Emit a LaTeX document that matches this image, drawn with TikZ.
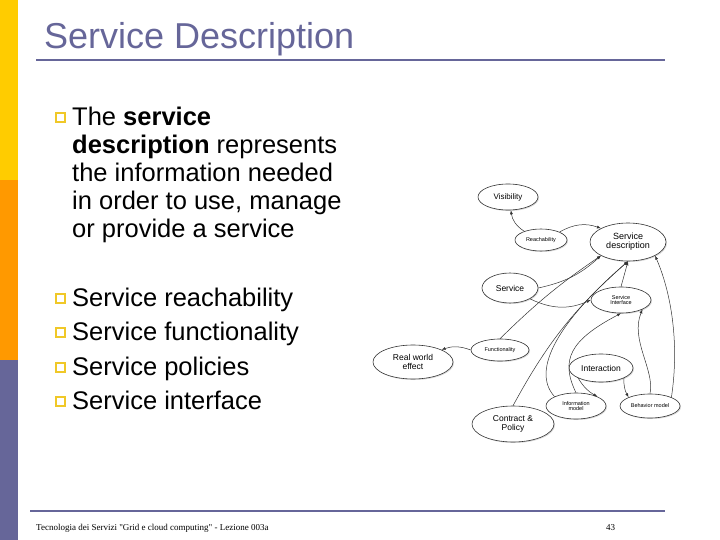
\documentclass[tikz,border=0pt]{standalone}
\usepackage{fontspec}
\setmainfont{Liberation Sans}
\newfontfamily\footfont{Liberation Serif}
\usetikzlibrary{shapes.geometric,arrows.meta,shadows}
\definecolor{slate}{RGB}{102,102,153}
\definecolor{bary}{RGB}{255,204,0}
\definecolor{baro}{RGB}{255,153,0}
\definecolor{bulletc}{RGB}{240,200,40}
\begin{document}
\begin{tikzpicture}[x=1pt,y=-1pt,
  ell/.style={ellipse,draw=black!80,line width=0.6pt,inner sep=0pt,fill=white,
    drop shadow={shadow xshift=1pt,shadow yshift=-1pt,opacity=0.3},align=center,font=\fontsize{#1}{#1}\selectfont},
  ell/.default=7,
  conn/.style={-{Latex[length=4pt,width=3pt]},line width=0.5pt,black!80},
  bul/.style={draw=bulletc,line width=2pt,minimum size=9pt,inner sep=0pt},
  btxt/.style={font=\fontsize{25.5}{28}\selectfont,align=left,inner sep=0pt}]
\useasboundingbox (0,0) rectangle (720,540);
\fill[bary] (0,0) rectangle (18,180);
\fill[baro] (0,180) rectangle (18,360);
\fill[slate] (0,360) rectangle (18,540);
\node[anchor=base west,inner sep=0pt,text=slate,font=\fontsize{36}{36}\selectfont] (title) at (44,49) {Service Description};
\draw[slate,line width=1.5pt] (36,60) -- (665,60);
\draw[slate,line width=1.5pt] (30,511) -- (665,511);
\node[anchor=base west,inner sep=0pt,font=\footfont\fontsize{9}{9}\selectfont] (foot) at (36,530) {Tecnologia dei Servizi "Grid e cloud computing" - Lezione 003a};
\node[anchor=base west,inner sep=0pt,font=\footfont\fontsize{9}{9}\selectfont] (pg) at (606,530) {43};
% bullets
\node[bul] (b0) at (60,118) {};
\node[btxt,anchor=north west] (t0) at (72,107) {The \textbf{service}\\\textbf{description} represents\\the information needed\\in order to use, manage\\or provide a service};
\foreach \y/\t [count=\i] in {306/Service reachability,340/Service functionality,375/Service policies,409/Service interface}{
  \node[bul] (b\i) at (60,\y-8) {};
  \node[btxt,anchor=base west] (t\i) at (72,\y) {\t};
}
% diagram
\node[ell=8,minimum width=60pt,minimum height=26pt] (vis) at (508,197) {Visibility};
\node[ell=5.5,minimum width=52pt,minimum height=22pt] (rea) at (541,240) {Reachability};
\node[ell=9,minimum width=76pt,minimum height=38pt] (sd) at (628,242) {Service\\description};
\node[ell=8.5,minimum width=56pt,minimum height=30pt] (ser) at (510,288) {Service};
\node[ell=5.5,minimum width=60pt,minimum height=26pt] (si) at (621,300) {Service\\Interface};
\node[ell=5.5,minimum width=58pt,minimum height=22pt] (fun) at (500,350) {Functionality};
\node[ell=8.5,minimum width=80pt,minimum height=34pt] (rwe) at (413,362) {Real world\\effect};
\node[ell=8.5,minimum width=64pt,minimum height=28pt] (int) at (601,368) {Interaction};
\node[ell=5.5,minimum width=60pt,minimum height=26pt] (im) at (576,406) {Information\\model};
\node[ell=5.5,minimum width=60pt,minimum height=24pt] (bm) at (650,406) {Behavior model};
\node[ell=8.5,minimum width=82pt,minimum height=36pt] (cp) at (513,424) {Contract \&\\Policy};
\draw[conn] (rea) to[bend left=25] (vis);
\draw[conn] (rea.north east) to[bend left=25] (sd.north west);
\draw[conn] (ser.east) to[bend right=15] (sd.south west);
\draw[conn] (ser.south east) to[bend right=25] (si.west);
\draw[conn] (fun.west) to[bend right=20] (rwe.north east);
\draw[conn] (fun.north) to[bend left=5] (sd.south west);
\draw[conn] (cp.north) to[bend left=10] (sd.south);
\draw[conn] (im.north west) .. controls (530,370) and (560,320) .. (sd.south);
\draw[conn] (im.north) .. controls (560,360) and (570,340) .. (si.south);
\draw[conn] (bm.north) .. controls (655,370) and (630,340) .. (si.south east);
\draw[conn] (bm.north east) .. controls (680,340) and (670,290) .. (sd.south east);
\draw[conn] (si.north) -- (sd.south);
\draw[conn] (int.south west) to[bend right=15] (im.north east);
\draw[conn] (int.south east) to[bend right=15] (bm.north west);
\end{tikzpicture}
\end{document}
